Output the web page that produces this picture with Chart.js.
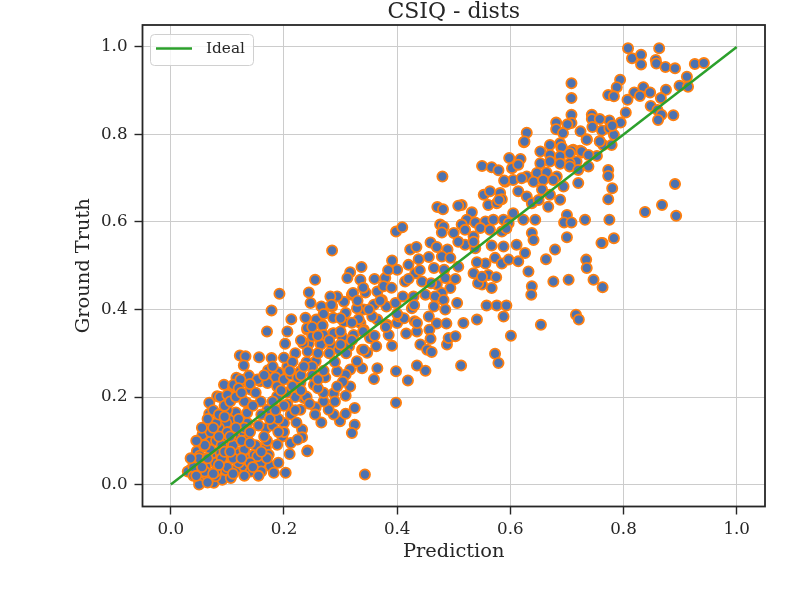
<!DOCTYPE html>
<html>
<head>
<meta charset="utf-8">
<script src="https://cdn.jsdelivr.net/npm/chart.js@4.4.0/dist/chart.umd.min.js"></script>
<style>
  body { margin: 0; background: #ffffff; }
  #chart { display: block; }
</style>
</head>
<body>
<canvas id="chart" width="800" height="600"></canvas>
<script>
// [prediction, ground truth] pairs, grouped by region
var upperBand = [
  [0.808,0.997],[0.863,0.997],[0.815,0.974],[0.831,0.982],[0.831,0.960],[0.857,0.970],[0.858,0.962],
  [0.874,0.954],[0.891,0.951],[0.926,0.961],[0.942,0.963],[0.912,0.932],[0.899,0.911],[0.914,0.909],
  [0.794,0.925],[0.788,0.908],[0.773,0.890],[0.783,0.887],[0.819,0.896],[0.835,0.908],[0.829,0.888],
  [0.847,0.896],[0.875,0.902],[0.866,0.883],[0.807,0.879],[0.848,0.865],[0.860,0.856],[0.867,0.845],
  [0.861,0.833],[0.888,0.844],[0.804,0.850],[0.795,0.827],[0.775,0.832],[0.744,0.845],[0.744,0.835],
  [0.758,0.835],[0.745,0.817],[0.724,0.807],[0.735,0.789],[0.762,0.809],[0.775,0.814],[0.783,0.799],
  [0.780,0.820],[0.764,0.776],[0.758,0.785],[0.779,0.776],[0.753,0.751],[0.727,0.759],[0.711,0.765],
  [0.717,0.738],[0.738,0.727],[0.773,0.719],[0.773,0.705],[0.708,0.917],[0.708,0.883],[0.708,0.845],
  [0.708,0.826],[0.705,0.734],[0.780,0.677],[0.773,0.652],[0.775,0.605],[0.783,0.563],[0.763,0.552],
  [0.763,0.451],[0.891,0.687],[0.868,0.639],[0.838,0.623],[0.893,0.614],
  [0.681,0.827],[0.701,0.823],[0.681,0.812],[0.693,0.803],[0.629,0.804],[0.624,0.782],[0.688,0.780],
  [0.690,0.770],[0.723,0.763],[0.598,0.746],[0.618,0.744]
];

var midUpper = [
  [0.625,0.784],[0.670,0.776],[0.691,0.771],[0.708,0.763],[0.735,0.788],[0.758,0.784],
  [0.653,0.761],[0.670,0.753],[0.688,0.750],[0.705,0.757],[0.726,0.761],[0.738,0.753],
  [0.550,0.728],[0.567,0.725],[0.579,0.718],[0.603,0.723],[0.614,0.731],[0.653,0.734],[0.670,0.738],
  [0.688,0.733],[0.705,0.727],[0.720,0.719],[0.720,0.689],[0.647,0.712],[0.664,0.713],[0.682,0.704],
  [0.629,0.704],[0.641,0.692],[0.658,0.696],[0.676,0.696],[0.694,0.681],[0.591,0.692],[0.605,0.696],
  [0.620,0.700],[0.614,0.670],[0.629,0.658],[0.638,0.643],[0.656,0.674],[0.670,0.662],[0.688,0.651],
  [0.667,0.635],[0.650,0.650],[0.553,0.662],[0.564,0.670],[0.582,0.666],[0.561,0.639],[0.576,0.643],
  [0.585,0.652],[0.532,0.622],[0.514,0.639],[0.523,0.605],[0.538,0.599],[0.556,0.601],[0.570,0.605],
  [0.588,0.605],[0.605,0.620],[0.623,0.605],[0.644,0.605],[0.597,0.597],[0.514,0.594],[0.520,0.582],
  [0.535,0.567],[0.547,0.586],[0.564,0.582],[0.585,0.578],[0.593,0.585],[0.520,0.548],[0.538,0.540],
  [0.567,0.546],[0.588,0.544],[0.611,0.548],[0.573,0.518],[0.585,0.505],[0.556,0.505],[0.541,0.508],
  [0.597,0.514],[0.614,0.510],[0.626,0.529],[0.638,0.575],[0.641,0.559],[0.632,0.487],[0.638,0.453],
  [0.637,0.434],[0.535,0.483],[0.550,0.457],[0.561,0.479],[0.575,0.474],[0.543,0.460],[0.567,0.449],
  [0.700,0.616],[0.695,0.599],[0.708,0.599],[0.732,0.605],[0.700,0.565],[0.679,0.537],[0.663,0.515],
  [0.734,0.514],[0.735,0.495],[0.761,0.552],[0.676,0.464],[0.703,0.468],[0.747,0.468],
  [0.576,0.409],[0.593,0.409],[0.588,0.384],[0.654,0.365],[0.716,0.388],[0.721,0.377],[0.601,0.340],
  [0.573,0.299],[0.579,0.278]
];

var midBand = [
  [0.513,0.272],[0.435,0.272],[0.450,0.260],[0.398,0.259],[0.419,0.238],[0.398,0.187],[0.343,0.023],
  [0.242,0.078],[0.488,0.320],[0.491,0.335],[0.503,0.339],[0.517,0.369],[0.541,0.377],[0.470,0.368],
  [0.487,0.368],[0.457,0.354],[0.459,0.333],[0.441,0.320],[0.453,0.308],[0.461,0.303],[0.435,0.350],
  [0.431,0.373],[0.400,0.369],[0.391,0.317],[0.416,0.345],[0.385,0.342],[0.365,0.266],[0.359,0.241],
  [0.347,0.301],[0.338,0.266],[0.329,0.282],[0.317,0.263],[0.309,0.251],[0.317,0.224],[0.309,0.203],
  [0.325,0.175],[0.325,0.137],[0.320,0.118],[0.299,0.145],[0.309,0.162],[0.266,0.142],[0.288,0.160],
  [0.279,0.171],[0.270,0.190],[0.256,0.177],[0.288,0.209],[0.270,0.210],[0.290,0.190],[0.273,0.245],
  [0.294,0.259],[0.304,0.235],[0.253,0.228],[0.238,0.202],[0.232,0.126],[0.232,0.108],[0.365,0.377],
  [0.335,0.369],[0.306,0.372],[0.268,0.365],[0.241,0.354],[0.244,0.322],[0.265,0.323],[0.285,0.316],
  [0.286,0.345],[0.312,0.325],[0.338,0.308],[0.352,0.335],[0.363,0.316],[0.382,0.365],[0.229,0.259],
  [0.256,0.282],
  [0.480,0.704],[0.471,0.634],[0.481,0.629],[0.508,0.637],[0.398,0.578],[0.409,0.588],[0.285,0.535],
  [0.589,0.695],[0.580,0.650],[0.476,0.594],[0.482,0.589],[0.479,0.576],[0.500,0.575],[0.459,0.553],
  [0.470,0.543],[0.489,0.537],[0.508,0.555],[0.535,0.555],[0.423,0.537],[0.434,0.543],[0.438,0.515],
  [0.456,0.520],[0.479,0.521],[0.494,0.518],[0.508,0.498],[0.483,0.491],[0.465,0.495],[0.391,0.512],
  [0.400,0.491],[0.420,0.502],[0.432,0.483],[0.414,0.464],[0.444,0.464],[0.450,0.434],[0.429,0.430],
  [0.470,0.457],[0.485,0.472],[0.503,0.470],[0.494,0.449],[0.479,0.438],[0.467,0.430],[0.482,0.422],
  [0.465,0.407],[0.485,0.400],[0.506,0.415],[0.550,0.475],[0.558,0.409],[0.379,0.472],[0.384,0.490],
  [0.337,0.497],[0.317,0.485],[0.312,0.472],[0.335,0.468],[0.344,0.439],[0.320,0.434],[0.365,0.441],
  [0.376,0.453],[0.373,0.422],[0.381,0.407],[0.359,0.411],[0.341,0.400],[0.356,0.384],[0.332,0.378],
  [0.309,0.392],[0.306,0.418],[0.294,0.430],[0.285,0.407],[0.403,0.384],[0.426,0.403],[0.397,0.415],
  [0.412,0.380],[0.435,0.369],[0.456,0.384],
  [0.255,0.468],[0.192,0.436],[0.178,0.398],[0.170,0.350],[0.213,0.378],[0.206,0.350],[0.202,0.322],
  [0.244,0.439],[0.247,0.415],[0.266,0.407],[0.282,0.430],[0.284,0.411],[0.322,0.438],[0.238,0.381],
  [0.257,0.377],[0.268,0.363],[0.287,0.381],[0.329,0.403],[0.241,0.358],[0.250,0.339],[0.270,0.342],
  [0.288,0.346],[0.303,0.337],[0.323,0.342],[0.341,0.354],[0.234,0.323],[0.242,0.304],[0.265,0.320],
  [0.297,0.308],[0.315,0.316],[0.341,0.308],[0.122,0.295],[0.132,0.293],[0.156,0.291],[0.178,0.289],
  [0.129,0.272],[0.172,0.261],[0.190,0.256],[0.206,0.270],[0.209,0.253],[0.094,0.228],[0.116,0.244],
  [0.123,0.232],[0.138,0.249],[0.158,0.236],[0.110,0.225],[0.175,0.236],[0.194,0.236],[0.185,0.245],
  [0.294,0.224],
  [0.22,0.30],[0.24,0.28],[0.26,0.34],[0.28,0.30],[0.30,0.32],[0.30,0.38],[0.32,0.37],[0.27,0.39],
  [0.25,0.36],[0.23,0.33],[0.33,0.42],[0.35,0.40],[0.37,0.42],[0.34,0.45],[0.36,0.47],[0.39,0.45],
  [0.41,0.43],[0.42,0.47],[0.44,0.49],[0.46,0.46],[0.40,0.39],[0.43,0.41]
];

var lowCluster = [
  [0.068,0.187],[0.068,0.162],[0.082,0.202],[0.087,0.200],[0.100,0.205],[0.111,0.228],[0.123,0.240],
  [0.122,0.203],[0.135,0.164],[0.105,0.148],[0.091,0.122],[0.098,0.140],[0.068,0.137],[0.056,0.114],
  [0.071,0.099],[0.046,0.076],[0.041,0.057],[0.035,0.034],[0.053,0.023],[0.060,0.019],[0.076,0.004],
  [0.091,0.011],[0.106,0.015],[0.050,0.008],[0.062,0.042],[0.079,0.050],[0.074,0.072],[0.088,0.072],
  [0.094,0.095],[0.106,0.093],[0.115,0.110],[0.129,0.118],[0.135,0.103],[0.120,0.072],[0.107,0.063],
  [0.097,0.034],[0.115,0.034],[0.129,0.042],[0.141,0.030],[0.135,0.057],[0.147,0.068],[0.153,0.087],
  [0.135,0.141],[0.130,0.130],[0.134,0.187],[0.115,0.165],[0.141,0.217],[0.153,0.240],[0.171,0.232],
  [0.188,0.224],[0.200,0.240],[0.212,0.251],[0.229,0.232],[0.224,0.244],[0.188,0.202],[0.206,0.183],
  [0.212,0.160],[0.229,0.171],[0.235,0.198],[0.222,0.142],[0.200,0.141],[0.168,0.129],[0.159,0.190],
  [0.171,0.171],[0.180,0.135],[0.197,0.110],[0.188,0.091],[0.168,0.084],[0.212,0.095],[0.224,0.103],
  [0.241,0.076],[0.203,0.027],[0.176,0.042],[0.159,0.050],[0.182,0.027],[0.160,0.030],[0.153,0.065],
  [0.173,0.068],[0.030,0.030],[0.040,0.020],[0.050,0.000],[0.079,0.019],[0.065,0.005],[0.040,0.050],
  [0.080,0.100],[0.059,0.087],[0.050,0.055],[0.085,0.130],[0.051,0.066],
  [0.05,0.06],[0.07,0.08],[0.09,0.06],[0.11,0.09],[0.10,0.12],[0.12,0.15],[0.14,0.12],[0.08,0.14],
  [0.10,0.17],[0.13,0.19],[0.16,0.16],[0.18,0.19],[0.15,0.21],[0.12,0.22],[0.19,0.15],[0.17,0.10],
  [0.20,0.12],[0.22,0.17],[0.24,0.20],[0.26,0.22],[0.06,0.03],[0.08,0.03],[0.10,0.04],[0.12,0.05],
  [0.14,0.05],[0.04,0.04],[0.06,0.09],[0.07,0.12],[0.09,0.09],[0.11,0.06],[0.13,0.08],[0.15,0.09],
  [0.17,0.06],[0.19,0.05],[0.21,0.07],[0.20,0.18],[0.22,0.20],[0.23,0.25],[0.25,0.27],[0.27,0.26],
  [0.29,0.28],[0.31,0.30],[0.26,0.30],[0.28,0.33],[0.30,0.35],[0.32,0.33],[0.34,0.35],[0.36,0.34],
  [0.38,0.36],
  [0.045,0.10],[0.055,0.13],[0.065,0.15],[0.075,0.17],[0.085,0.16],[0.095,0.18],[0.105,0.19],
  [0.115,0.20],[0.125,0.21],[0.115,0.13],[0.125,0.10],[0.105,0.11],[0.095,0.075],[0.085,0.045],
  [0.075,0.025],[0.065,0.06],[0.055,0.04],[0.045,0.02],[0.035,0.06],[0.11,0.025],[0.13,0.02],
  [0.145,0.04],[0.155,0.02],[0.165,0.11],[0.175,0.15],[0.185,0.17],[0.19,0.12],[0.205,0.21],
  [0.215,0.225],[0.145,0.18],[0.155,0.135],[0.14,0.095],[0.16,0.075],[0.125,0.06],[0.105,0.075],
  [0.085,0.11],[0.075,0.13],[0.095,0.155],[0.14,0.23],[0.165,0.25],[0.18,0.27],[0.20,0.29],
  [0.215,0.28],[0.235,0.27],[0.25,0.25],[0.26,0.24],[0.21,0.26],[0.195,0.215],[0.23,0.215],
  [0.245,0.185],[0.255,0.16]
];

var idealLine = [0, 1];
var tickValues = [0.0, 0.2, 0.4, 0.6, 0.8, 1.0];
var axisMin = -0.05;
var axisMax = 1.05;

var ink = "#262626";
var serif = "'DejaVu Serif', serif";

var points = upperBand.concat(midUpper, midBand, lowCluster).map(function(p) {
  return { x: p[0], y: p[1] };
});

var framePlugin = {
  id: "frame",
  afterDraw: function(chart) {
    var ctx = chart.ctx;
    var a = chart.chartArea;
    ctx.save();
    // box around the axes
    ctx.strokeStyle = ink;
    ctx.lineWidth = 1.8;
    ctx.strokeRect(a.left, a.top, a.right - a.left, a.bottom - a.top);
    // title
    ctx.fillStyle = ink;
    ctx.font = "22px " + serif;
    ctx.textAlign = "center";
    ctx.textBaseline = "alphabetic";
    ctx.fillText("CSIQ - dists", (a.left + a.right) / 2, 18);
    // legend box, upper left
    ctx.beginPath();
    ctx.roundRect(150.5, 34.5, 103, 31, 4);
    ctx.fillStyle = "rgba(255,255,255,0.8)";
    ctx.fill();
    ctx.strokeStyle = "#d0d0d0";
    ctx.lineWidth = 1;
    ctx.stroke();
    ctx.beginPath();
    ctx.moveTo(156, 48.5);
    ctx.lineTo(192, 48.5);
    ctx.strokeStyle = "#2ca02c";
    ctx.lineWidth = 2.5;
    ctx.stroke();
    ctx.fillStyle = ink;
    ctx.font = "15.3px " + serif;
    ctx.textAlign = "left";
    ctx.textBaseline = "middle";
    ctx.fillText("Ideal", 206, 49);
    ctx.restore();
  }
};

function fixedTicks(scale) {
  scale.ticks = tickValues.map(function(v) { return { value: v }; });
}

var ctx = document.getElementById("chart").getContext("2d");
var myChart = new Chart(ctx, {
  type: "scatter",
  data: {
    datasets: [
      {
        type: "line",
        label: "Ideal",
        data: idealLine.map(function(v) { return { x: v, y: v }; }),
        borderColor: "#2ca02c",
        borderWidth: 2.5,
        pointRadius: 0,
        fill: false,
        order: 0
      },
      {
        label: "dists",
        data: points,
        backgroundColor: "#4c72b0",
        borderColor: "#ff7f0e",
        borderWidth: 1.8,
        pointRadius: 5.1,
        order: 1
      }
    ]
  },
  options: {
    responsive: false,
    animation: false,
    devicePixelRatio: 1,
    layout: { padding: { top: 25, right: 35, left: 0, bottom: 0 } },
    plugins: {
      legend: { display: false },
      title: { display: false },
      tooltip: { enabled: false }
    },
    scales: {
      x: {
        type: "linear",
        min: axisMin,
        max: axisMax,
        afterBuildTicks: fixedTicks,
        afterFit: function(s) { s.height = 93.5; },
        grid: { color: "#cccccc", lineWidth: 1, tickColor: ink, tickLength: 8, tickWidth: 1.4 },
        border: { display: false },
        ticks: {
          color: ink,
          padding: 5,
          font: { family: serif, size: 16.7 },
          callback: function(v) { return v.toFixed(1); }
        },
        title: {
          display: true,
          text: "Prediction",
          color: ink,
          font: { family: serif, size: 19.4 },
          padding: { top: 0, bottom: 36 }
        }
      },
      y: {
        type: "linear",
        min: axisMin,
        max: axisMax,
        afterBuildTicks: fixedTicks,
        afterFit: function(s) { s.width = 142.5; },
        grid: { color: "#cccccc", lineWidth: 1, tickColor: ink, tickLength: 8, tickWidth: 1.4 },
        border: { display: false },
        ticks: {
          color: ink,
          padding: 7,
          font: { family: serif, size: 16.7 },
          callback: function(v) { return v.toFixed(1); }
        },
        title: {
          display: true,
          text: "Ground Truth",
          color: ink,
          font: { family: serif, size: 19.4 },
          padding: { top: 72, bottom: 0 }
        }
      }
    }
  },
  plugins: [framePlugin]
});
</script>
</body>
</html>
